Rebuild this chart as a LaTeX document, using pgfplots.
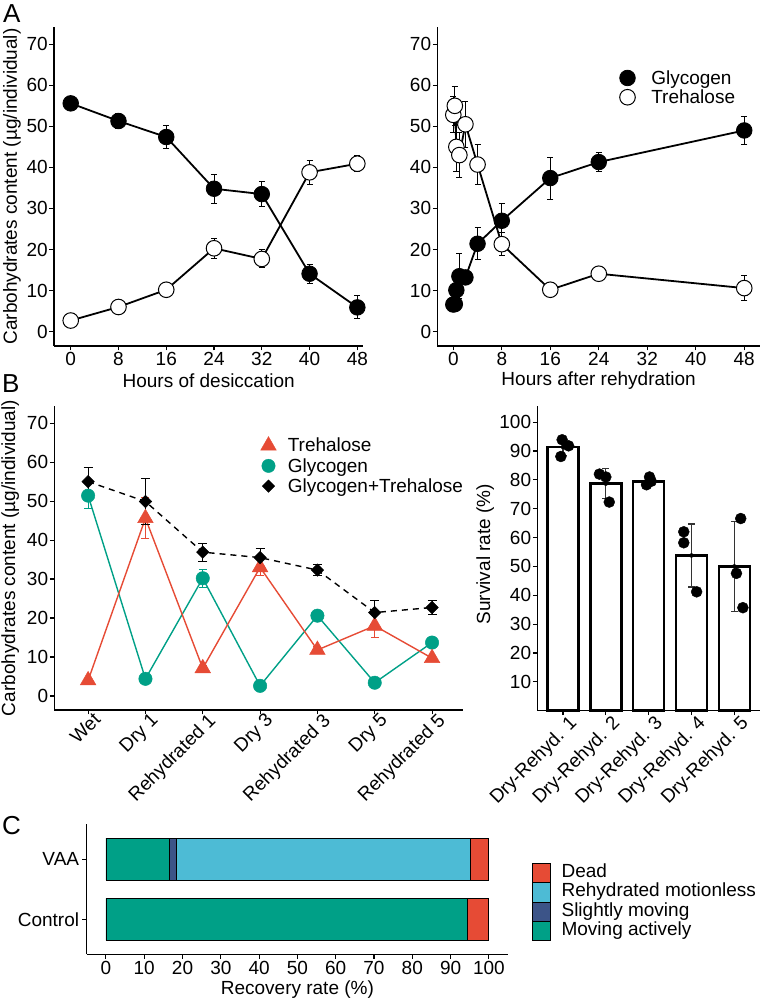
\documentclass[border=0pt]{standalone}
\usepackage{pgfplots}
\usepackage{pgfplotstable}
\pgfplotsset{compat=1.18}
\usepackage{fontspec}
\setmainfont{Liberation Sans}
\definecolor{cred}{HTML}{E64B35}
\definecolor{cteal}{HTML}{00A087}
\definecolor{cblue}{HTML}{4DBBD5}
\definecolor{cnavy}{HTML}{3C5488}

\pgfplotstableread{
x y e
0 55.6 0.6
8 51.3 1.9
16 47.4 2.9
24 34.8 3.5
32 33.5 3.0
40 14.1 2.3
48 5.9 2.8
}\AGlyL
\pgfplotstableread{
x y e
0 2.7 0.5
8 6.0 0.5
16 10.2 0.6
24 20.3 2.5
32 17.7 2.2
40 38.8 2.9
48 40.9 1.9
}\ATreL
\pgfplotstableread{
x y e
0 6.6 1.8
0.25 6.7 1.5
0.5 10.1 1.6
1 13.5 5.5
2 13.2 1.0
4 21.4 3.9
8 27.0 4.1
16 37.4 5.1
24 41.3 2.4
48 49.0 3.4
}\AGlyR
\pgfplotstableread{
x y e
0 52.8 4.4
0.25 55.0 4.7
0.5 45.0 5.9
1 43.0 5.4
2 50.5 5.6
4 40.7 4.9
8 21.3 2.8
16 10.2 1.3
24 14.1 1.5
48 10.6 3.0
}\ATreR
\pgfplotstableread{
x y e
0 51.4 3.2
1 4.4 0.6
2 30.2 2.3
3 2.6 0.4
4 20.6 0.8
5 3.4 0.5
6 13.7 0.8
}\BGly
\pgfplotstableread{
x y e
0 4.0 0.5
1 45.6 5.2
2 7.1 0.8
3 33.0 2.0
4 11.8 0.8
5 18.0 3.0
6 9.7 0.8
}\BTre
\pgfplotstableread{
x y e
0 55.0 3.7
1 49.9 5.9
2 36.9 2.3
3 35.5 2.4
4 32.3 1.5
5 21.4 3.1
6 22.7 1.7
}\BSum
\pgfplotstableread{
x y e
1 91.4 2.9
2 78.7 5.2
3 79.5 1.4
4 53.8 10.9
5 50.0 15.7
}\BBar
\pgfplotstableread{
x y
0.98 93.9
1.13 91.8
0.95 88.1
1.85 82.0
2.00 81.0
2.08 72.3
3.02 81.0
2.95 78.3
3.06 79.5
3.82 62.0
3.82 58.2
4.12 41.2
5.15 66.6
5.05 47.6
5.20 35.7
}\BPts

\pgfplotsset{
  gg/.style={
    scale only axis,
    anchor=south west,
    axis x line*=bottom, axis y line*=left,
    axis line style={line width=1.2pt, black},
    tick align=outside,
    major tick length=4.5pt,
    major tick style={line width=1.1pt, black},
    minor tick num=0,
    font=\fontsize{19}{22}\selectfont,
    /pgf/number format/assume math mode=true,
    xticklabel style={inner sep=2pt},
    yticklabel style={inner sep=1.5pt},
    clip=false,
  },
  ebA/.style={only marks, mark=none, forget plot,
    error bars/.cd, y dir=both, y explicit,
    error bar style={line width=1pt, black},
    error mark options={rotate=90, mark size=3pt, line width=1pt, black}},
}

\begin{document}
\begin{tikzpicture}[x=1pt,y=1pt]
\useasboundingbox (0,0) rectangle (763,1001);

\node[anchor=north west, inner sep=0pt, font=\fontsize{26}{30}\selectfont] at (3,997) {A};
\node[anchor=north west, inner sep=0pt, font=\fontsize{26}{30}\selectfont] at (2,627) {B};
\node[anchor=north west, inner sep=0pt, font=\fontsize{26}{30}\selectfont] at (2,185) {C};

% ---------- A left
\begin{axis}[gg, at={(54pt,655pt)}, width=309.3pt, height=319pt,
  xmin=-2.8, xmax=49, ymin=-3.5, ymax=74.2,
  xtick={0,8,...,48}, ytick={0,10,...,70},
  xlabel={Hours of desiccation},
  ylabel={Carbohydrates content (µg/individual)},
  xlabel style={at={(axis description cs:0.5,-0.1097)}, anchor=center},
  ylabel style={at={(axis description cs:-0.136,0.5)}, anchor=center}]
\addplot[ebA] table[x=x,y=y,y error=e] {\AGlyL};
\addplot[ebA] table[x=x,y=y,y error=e] {\ATreL};
\addplot[black, line width=1.8pt, mark=*, mark size=7.8pt, mark options={fill=black, line width=0.8pt}] table[x=x,y=y] {\AGlyL};
\addplot[black, line width=1.8pt, mark=*, mark size=7.8pt, mark options={fill=white, draw=black, line width=1pt}] table[x=x,y=y] {\ATreL};
\end{axis}

% ---------- A right
\begin{axis}[gg, at={(437.3pt,655pt)}, width=322.7pt, height=319pt,
  xmin=-2.64, xmax=50.6, ymin=-3.5, ymax=74.2,
  xtick={0,8,...,48}, ytick={0,10,...,70},
  xlabel={Hours after rehydration},
  xlabel style={at={(axis description cs:0.5,-0.1097)}, anchor=center},
  legend style={at={(0.5646,0.871)}, anchor=north west, draw=none, fill=none,
    inner sep=0pt, row sep=0pt, column sep=14pt, nodes={inner sep=2pt}},
  legend cell align=left]
\addplot[ebA] table[x=x,y=y,y error=e] {\AGlyR};
\addplot[ebA] table[x=x,y=y,y error=e] {\ATreR};
\addplot[forget plot, black, line width=1.8pt, mark=*, mark size=7.8pt, mark options={fill=black, line width=0.8pt}] table[x=x,y=y] {\AGlyR};
\addplot[forget plot, black, line width=1.8pt, mark=*, mark size=7.8pt, mark options={fill=white, draw=black, line width=1pt}] table[x=x,y=y] {\ATreR};
\addlegendimage{only marks, mark=*, mark size=7.8pt, mark options={fill=black, draw=black, line width=0.8pt}}
\addlegendentry{Glycogen}
\addlegendimage{only marks, mark=*, mark size=7.8pt, mark options={fill=white, draw=black, line width=1pt}}
\addlegendentry{Trehalose}
\end{axis}

% ---------- B left
\begin{axis}[gg, at={(54.3pt,291pt)}, width=408.7pt, height=304pt,
  xmin=-0.59, xmax=6.54, ymin=-3.6, ymax=74.4,
  xtick={0,...,6}, ytick={0,10,...,70},
  xticklabels={Wet, Dry 1, Rehydrated 1, Dry 3, Rehydrated 3, Dry 5, Rehydrated 5},
  xticklabel style={rotate=45, anchor=north east, inner sep=1pt, xshift=6pt},
  ylabel={Carbohydrates content (µg/individual)},
  ylabel style={at={(axis description cs:-0.108,0.5)}, anchor=center},
  legend style={at={(0.5045,0.902)}, anchor=north west, draw=none, fill=none,
    inner sep=0pt, row sep=1pt, column sep=9.5pt, nodes={inner sep=2pt}},
  legend cell align=left]
\addplot[only marks, mark=none, forget plot, error bars/.cd, y dir=both, y explicit,
  error bar style={line width=1pt, cteal}, error mark options={rotate=90, mark size=4pt, line width=1pt, cteal}]
  table[x=x,y=y,y error=e] {\BGly};
\addplot[forget plot, cteal, line width=1.4pt, mark=*, mark size=6.7pt, mark options={fill=cteal, draw=cteal, line width=0.5pt}] table[x=x,y=y] {\BGly};
\addplot[only marks, mark=none, forget plot, error bars/.cd, y dir=both, y explicit,
  error bar style={line width=1pt, cred}, error mark options={rotate=90, mark size=4pt, line width=1pt, cred}]
  table[x=x,y=y,y error=e] {\BTre};
\addplot[forget plot, cred, line width=1.4pt, mark=triangle*, mark size=9pt, mark options={fill=cred, draw=cred, line width=0.5pt, solid}] table[x=x,y=y] {\BTre};
\addplot[only marks, mark=none, forget plot, error bars/.cd, y dir=both, y explicit,
  error bar style={line width=1pt, black}, error mark options={rotate=90, mark size=4.5pt, line width=1pt, black}]
  table[x=x,y=y,y error=e] {\BSum};
\addplot[forget plot, black, line width=1.4pt, dash pattern=on 6pt off 5pt, mark=square*, mark size=4.4pt, mark options={fill=black, draw=black, rotate=45, solid, line width=0.5pt}] table[x=x,y=y] {\BSum};
\addlegendimage{only marks, mark=triangle*, mark size=9pt, mark options={fill=cred, draw=cred}}
\addlegendentry{Trehalose}
\addlegendimage{only marks, mark=*, mark size=6.7pt, mark options={fill=cteal, draw=cteal}}
\addlegendentry{Glycogen}
\addlegendimage{only marks, mark=square*, mark size=4.4pt, mark options={fill=black, draw=black, rotate=45}}
\addlegendentry{Glycogen+Trehalose}
\end{axis}

% ---------- B right
\begin{axis}[gg, at={(537.3pt,290.3pt)}, width=222.7pt, height=304.7pt,
  xmin=0.4, xmax=5.6, ymin=0, ymax=105.6,
  xtick={1,...,5}, ytick={10,20,...,100},
  xticklabels={Dry-Rehyd. 1, Dry-Rehyd. 2, Dry-Rehyd. 3, Dry-Rehyd. 4, Dry-Rehyd. 5},
  xticklabel style={rotate=45, anchor=north east, inner sep=1pt, xshift=5pt, yshift=-2pt},
  ylabel={Survival rate (\%)},
  ylabel style={at={(axis description cs:-0.234,0.514)}, anchor=center}]
\addplot[ybar, bar width=31pt, bar shift=0pt, fill=white, draw=black, line width=2.4pt] table[x=x,y=y] {\BBar};
\addplot[only marks, mark=none, error bars/.cd, y dir=both, y explicit,
  error bar style={line width=1.2pt, black!80}, error mark options={rotate=90, mark size=3.5pt, line width=1.2pt, black!80}]
  table[x=x,y=y,y error=e] {\BBar};
\addplot[only marks, mark=*, mark size=5.5pt, black] table[x=x,y=y] {\BPts};
\end{axis}

% ---------- C
\begin{axis}[gg, at={(86.8pt,46.7pt)}, width=421.2pt, height=130pt,
  xbar stacked, bar width=42pt,
  xmin=-5, xmax=105, ymin=-0.58, ymax=1.58,
  xtick={0,10,...,100}, ytick={0,1}, yticklabels={Control, VAA},
  yticklabel style={inner sep=3pt},
  xlabel={Recovery rate (\%)},
  xlabel style={at={(axis description cs:0.5,-0.275)}, anchor=center},
  reverse legend,
  legend image code/.code={\draw[#1, draw=black, line width=0.8pt] (0pt,-9.7pt) rectangle (18pt,9.7pt);},
  legend style={at={(1.056,0.706)}, anchor=north west, draw=none, fill=none,
    inner sep=0pt, row sep=-0.8pt, column sep=9pt,
    nodes={inner xsep=2pt, inner ysep=0pt, text height=13.5pt, text depth=4pt}},
  legend cell align=left]
\addplot[fill=cteal, draw=black, line width=0.8pt] coordinates {(94.3,0) (16.5,1)};
\addlegendentry{Moving actively}
\addplot[fill=cnavy, draw=black, line width=0.8pt] coordinates {(0,0) (1.9,1)};
\addlegendentry{Slightly moving}
\addplot[fill=cblue, draw=black, line width=0.8pt] coordinates {(0,0) (76.8,1)};
\addlegendentry{Rehydrated motionless}
\addplot[fill=cred, draw=black, line width=0.8pt] coordinates {(5.7,0) (4.8,1)};
\addlegendentry{Dead}
\end{axis}
\end{tikzpicture}
\end{document}
